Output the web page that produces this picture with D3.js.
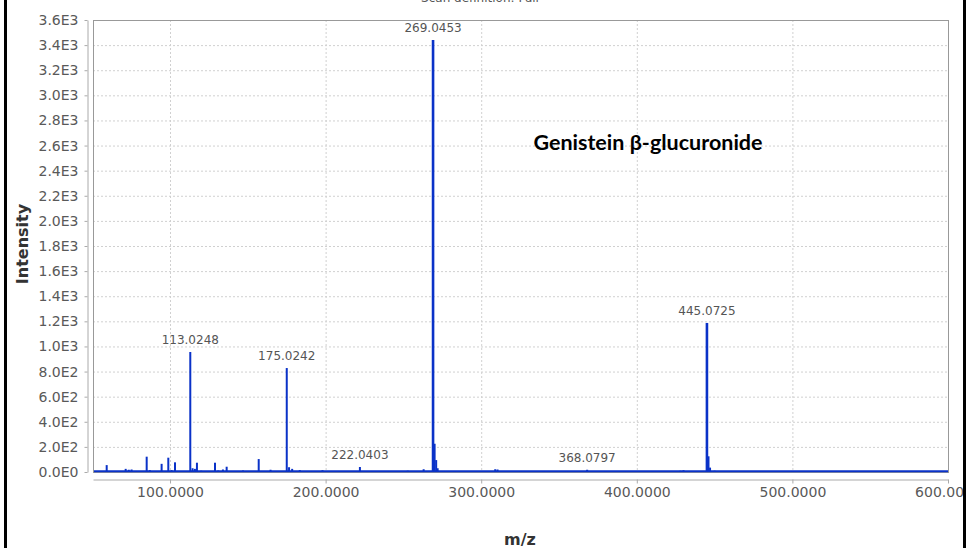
<!DOCTYPE html>
<html>
<head>
<meta charset="utf-8">
<script src="https://cdn.jsdelivr.net/npm/d3@7/dist/d3.min.js"></script>
<style>
  body { margin: 0; background: #fff; }
  svg { display: block; }
  .axis text { font-family: "DejaVu Sans", sans-serif; font-size: 14px; fill: #595959; }
  .axis path, .axis line { stroke: #aaa; }
  .grid line { stroke: #d0d0d0; stroke-dasharray: 2,2; }
  .peak-label { font-family: "DejaVu Sans", sans-serif; font-size: 12px; fill: #555; text-anchor: middle; }
</style>
</head>
<body>
<svg width="966" height="548"></svg>
<script>
// spectrum sticks (m/z, intensity)
var mz = [59.3, 64, 71.5, 73.5, 75.3, 79, 85, 87, 94.6, 98.9, 101, 103.2,
          113.0248, 114.5, 116, 117.3, 120, 128.9, 131, 134, 136.4, 146.9, 150,
          157, 164.6, 175.0242, 176.5, 178.5, 183.4, 190, 198, 208, 222.0403,
          230, 241, 252.8, 263, 269.0453, 270.05, 271.05, 272, 276, 283, 309,
          310.5, 325, 340, 355, 368.0797, 380, 392, 410, 428, 430, 445.0725,
          446.07, 447.07, 450, 460, 480, 500, 520, 540, 560, 580, 595];
var intensity = [55, 8, 25, 18, 20, 8, 122, 15, 65, 114, 15, 77,
                 956, 30, 25, 74, 10, 74, 12, 20, 42, 12, 8,
                 103, 18, 828, 38, 25, 15, 8, 14, 6, 40,
                 6, 8, 10, 22, 3441, 225, 95, 30, 8, 6, 22,
                 20, 8, 6, 8, 18, 6, 8, 6, 10, 14, 1187,
                 125, 35, 10, 8, 8, 6, 8, 6, 8, 6, 8];

// labelled peaks
var labelMz = [113.0248, 175.0242, 222.0403, 269.0453, 368.0797, 445.0725];
var labelInt = [956, 828, 40, 3441, 18, 1187];
var labelText = ["113.0248", "175.0242", "222.0403", "269.0453", "368.0797", "445.0725"];

var xTicks = [100, 200, 300, 400, 500, 600];
var xTickLabels = ["100.0000", "200.0000", "300.0000", "400.0000", "500.0000", "600.0000"];
var yTicks = [0, 200, 400, 600, 800, 1000, 1200, 1400, 1600, 1800, 2000,
              2200, 2400, 2600, 2800, 3000, 3200, 3400, 3600];
var yTickLabels = ["0.0E0", "2.0E2", "4.0E2", "6.0E2", "8.0E2", "1.0E3", "1.2E3",
                   "1.4E3", "1.6E3", "1.8E3", "2.0E3", "2.2E3", "2.4E3", "2.6E3",
                   "2.8E3", "3.0E3", "3.2E3", "3.4E3", "3.6E3"];

var svg = d3.select("svg");
var plot = {left: 93, right: 948, top: 20, bottom: 472};

var x = d3.scaleLinear().domain([50.5, 600]).range([plot.left, plot.right]),
    y = d3.scaleLinear().domain([0, 3600]).range([plot.bottom, plot.top]);

// title, cut off at the top edge like the screenshot
svg.append("text")
    .attr("x", 480).attr("y", 2)
    .attr("text-anchor", "middle")
    .style("font-family", "DejaVu Sans, sans-serif")
    .style("font-size", "12px")
    .style("fill", "#555")
    .text("Scan definition: Full");

// grid
var grid = svg.append("g").attr("class", "grid");
grid.selectAll(".h").data(yTicks.slice(1, -1)).enter().append("line")
    .attr("x1", plot.left).attr("x2", plot.right)
    .attr("y1", function(d) { return y(d) + 0.5; })
    .attr("y2", function(d) { return y(d) + 0.5; });
grid.selectAll(".v").data(xTicks.slice(0, -1)).enter().append("line")
    .attr("y1", plot.top).attr("y2", plot.bottom)
    .attr("x1", function(d) { return x(d) + 0.5; })
    .attr("x2", function(d) { return x(d) + 0.5; });

// plot frame
svg.append("rect")
    .attr("x", plot.left + 0.5).attr("y", plot.top + 0.5)
    .attr("width", plot.right - plot.left).attr("height", plot.bottom - plot.top)
    .attr("fill", "none").attr("stroke", "#999");

// axes
var yAxis = d3.axisLeft(y).tickValues(yTicks)
    .tickFormat(function(d, i) { return yTickLabels[i]; })
    .tickSizeInner(3).tickSizeOuter(0).tickPadding(6);
svg.append("g").attr("class", "axis")
    .attr("transform", "translate(87.5,0)")
    .call(yAxis);

var xAxis = d3.axisBottom(x).tickValues(xTicks)
    .tickFormat(function(d, i) { return xTickLabels[i]; })
    .tickSizeInner(4).tickSizeOuter(0).tickPadding(4);
svg.append("g").attr("class", "axis")
    .attr("transform", "translate(0,479.5)")
    .call(xAxis);

// baseline of spectrum
svg.append("line")
    .attr("x1", plot.left + 1).attr("x2", plot.right)
    .attr("y1", y(6)).attr("y2", y(6))
    .attr("stroke", "#0a32c8").attr("stroke-width", 2.2);

// sticks
svg.append("g").selectAll("line").data(mz).enter().append("line")
    .attr("x1", function(d) { return x(d); })
    .attr("x2", function(d) { return x(d); })
    .attr("y1", y(0))
    .attr("y2", function(d, i) { return y(intensity[i]); })
    .attr("stroke", "#0a32c8")
    .attr("stroke-width", function(d, i) { return intensity[i] > 1000 ? 2.6 : 2; });

// peak labels
svg.append("g").selectAll("text").data(labelMz).enter().append("text")
    .attr("class", "peak-label")
    .attr("x", function(d) { return x(d); })
    .attr("y", function(d, i) { return y(labelInt[i]) - 8; })
    .text(function(d, i) { return labelText[i]; });

// compound name
svg.append("text")
    .attr("x", 648).attr("y", 150)
    .attr("text-anchor", "middle")
    .style("font-family", "Lato, sans-serif")
    .style("font-weight", "bold")
    .style("font-size", "21.5px")
    .style("fill", "#000")
    .text("Genistein β-glucuronide");

// axis titles
svg.append("text")
    .attr("transform", "translate(28,244) rotate(-90)")
    .attr("text-anchor", "middle")
    .style("font-family", "DejaVu Sans, sans-serif")
    .style("font-weight", "bold")
    .style("font-size", "16px")
    .style("fill", "#333")
    .text("Intensity");

svg.append("text")
    .attr("x", 520).attr("y", 545)
    .attr("text-anchor", "middle")
    .style("font-family", "DejaVu Sans, sans-serif")
    .style("font-weight", "bold")
    .style("font-size", "16px")
    .style("fill", "#333")
    .text("m/z");

// outer black frame (left and right edges)
svg.append("rect").attr("x", 4).attr("y", 0).attr("width", 3).attr("height", 548).attr("fill", "#000");
svg.append("rect").attr("x", 963).attr("y", 0).attr("width", 3).attr("height", 548).attr("fill", "#000");
</script>
</body>
</html>
